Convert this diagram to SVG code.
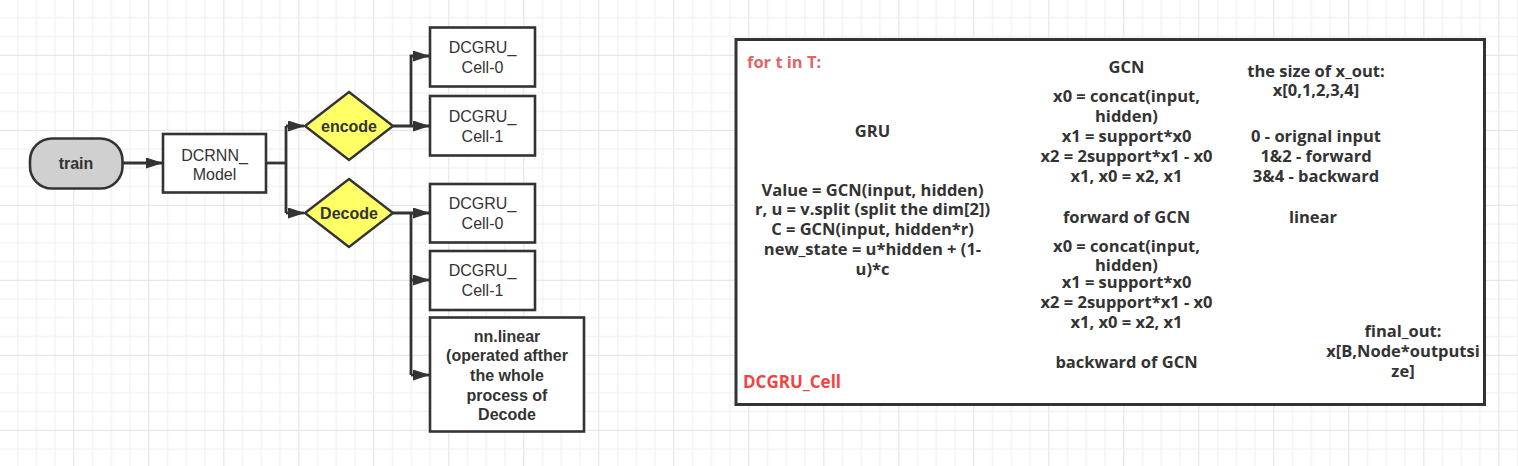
<svg xmlns="http://www.w3.org/2000/svg" width="1518" height="466" viewBox="0 0 1518 466">
<style>
.box{fill:#fff;stroke:#333;stroke-width:2.6}
.conn{fill:none;stroke:#333;stroke-width:2.8}
.lt{font-family:"Liberation Sans",Arial,sans-serif;font-size:16px;fill:#333;text-anchor:middle}
.b{font-weight:bold}
.rt{font-family:"Open Sans","Noto Sans",sans-serif;font-size:16.5px;font-weight:bold;fill:#333;text-anchor:middle}
</style>
<defs>
<pattern id="grid" patternUnits="userSpaceOnUse" x="-1.7" y="54.8" width="75" height="75">
<rect x="0" y="0" width="1" height="75" fill="#e2e2e2"/>
<rect x="18.75" y="0" width="1" height="75" fill="#eeeeee"/>
<rect x="37.5" y="0" width="1" height="75" fill="#eeeeee"/>
<rect x="56.25" y="0" width="1" height="75" fill="#eeeeee"/>
<rect x="0" y="0" width="75" height="1" fill="#e2e2e2"/>
<rect x="0" y="18.75" width="75" height="1" fill="#eeeeee"/>
<rect x="0" y="37.5" width="75" height="1" fill="#eeeeee"/>
<rect x="0" y="56.25" width="75" height="1" fill="#eeeeee"/>
</pattern>
<marker id="arr" viewBox="0 0 17 11" refX="16" refY="5.5" markerWidth="17" markerHeight="11" markerUnits="userSpaceOnUse" orient="auto">
<path d="M0,0 L17,5.5 L0,11 z" fill="#333"/>
</marker>
</defs>
<rect width="1518" height="466" fill="#fff"/>
<rect width="1518" height="466" fill="url(#grid)"/>

<g id="connectors">
<path class="conn" d="M122,163 H162" marker-end="url(#arr)"/>
<path class="conn" d="M266,163 H286"/>
<path class="conn" d="M286,126 V213"/>
<path class="conn" d="M286,126 H304" marker-end="url(#arr)"/>
<path class="conn" d="M286,213 H304" marker-end="url(#arr)"/>
<path class="conn" d="M393,126 H429" marker-end="url(#arr)"/>
<path class="conn" d="M411,126 V56 H429" marker-end="url(#arr)"/>
<path class="conn" d="M393,213 H429" marker-end="url(#arr)"/>
<path class="conn" d="M411,213 V375"/>
<path class="conn" d="M411,280 H429" marker-end="url(#arr)"/>
<path class="conn" d="M411,375 H429" marker-end="url(#arr)"/>
</g>

<g id="train">
<rect x="30" y="138.5" width="92.5" height="50" rx="22" ry="22" fill="#d0d0d0" stroke="#333" stroke-width="2.6"/>
<text class="lt b" x="76" y="169">train</text>
</g>
<g id="dcrnn-model">
<rect class="box" x="163" y="134" width="103" height="58.5"/>
<text class="lt" x="214.5" y="160.5">DCRNN_</text>
<text class="lt" x="214.5" y="180">Model</text>
</g>
<g id="encode">
<path d="M349,92 L393,126 L349,160 L305,126 z" fill="#ffff66" stroke="#333" stroke-width="2.4"/>
<text class="lt b" x="349" y="132">encode</text>
</g>
<g id="decode">
<path d="M349,179 L393,213 L349,247 L305,213 z" fill="#ffff66" stroke="#333" stroke-width="2.4"/>
<text class="lt b" x="349" y="219">Decode</text>
</g>
<g id="enc-cell-0">
<rect class="box" x="430" y="27.5" width="105" height="59"/>
<text class="lt" x="482.5" y="53">DCGRU_</text>
<text class="lt" x="482.5" y="73">Cell-0</text>
</g>
<g id="enc-cell-1">
<rect class="box" x="430" y="96" width="105" height="59.5"/>
<text class="lt" x="482.5" y="121.5">DCGRU_</text>
<text class="lt" x="482.5" y="141.5">Cell-1</text>
</g>
<g id="dec-cell-0">
<rect class="box" x="430" y="184" width="105" height="58.5"/>
<text class="lt" x="482.5" y="209">DCGRU_</text>
<text class="lt" x="482.5" y="229">Cell-0</text>
</g>
<g id="dec-cell-1">
<rect class="box" x="430" y="251" width="105" height="59"/>
<text class="lt" x="482.5" y="276">DCGRU_</text>
<text class="lt" x="482.5" y="296">Cell-1</text>
</g>
<g id="nn-linear">
<rect class="box" x="430" y="317.5" width="154" height="114"/>
<text class="lt b" x="507" y="341.5">nn.linear</text>
<text class="lt b" x="507" y="361.2">(operated afther</text>
<text class="lt b" x="507" y="380.9">the whole</text>
<text class="lt b" x="507" y="400.6">process of</text>
<text class="lt b" x="507" y="420.3">Decode</text>
</g>

<g id="dcgru-cell">
<rect x="736" y="39.5" width="748.5" height="365" fill="#fff" stroke="#333" stroke-width="3"/>
<text class="rt" x="747" y="67.5" style="text-anchor:start;fill:#e06666">for t in T:</text>
<text class="rt" x="743" y="387.5" style="text-anchor:start;fill:#f04444;font-size:17px">DCGRU_Cell</text>
<text class="rt" x="872.5" y="136.5">GRU</text>
<text class="rt" x="872.5" y="195.5">Value = GCN(input, hidden)</text>
<text class="rt" x="872.5" y="215.3">r, u = v.split (split the dim[2])</text>
<text class="rt" x="872.5" y="235.1">C = GCN(input, hidden*r)</text>
<text class="rt" x="872.5" y="254.9">new_state = u*hidden + (1-</text>
<text class="rt" x="872.5" y="274.7">u)*c</text>
<text class="rt" x="1126.5" y="72.5">GCN</text>
<text class="rt" x="1126.5" y="101.7">x0 = concat(input,</text>
<text class="rt" x="1126.5" y="121.7">hidden)</text>
<text class="rt" x="1126.5" y="141.7">x1 = support*x0</text>
<text class="rt" x="1126.5" y="161.7">x2 = 2support*x1 - x0</text>
<text class="rt" x="1126.5" y="181.7">x1, x0 = x2, x1</text>
<text class="rt" x="1126.5" y="222.7">forward of GCN</text>
<text class="rt" x="1126.5" y="251.7">x0 = concat(input,</text>
<text class="rt" x="1126.5" y="270.5">hidden)</text>
<text class="rt" x="1126.5" y="288.3">x1 = support*x0</text>
<text class="rt" x="1126.5" y="308.3">x2 = 2support*x1 - x0</text>
<text class="rt" x="1126.5" y="328.3">x1, x0 = x2, x1</text>
<text class="rt" x="1126.5" y="368.3">backward of GCN</text>
<text class="rt" x="1316" y="76.7">the size of x_out:</text>
<text class="rt" x="1316" y="95.7">x[0,1,2,3,4]</text>
<text class="rt" x="1316" y="141.7">0 - orignal input</text>
<text class="rt" x="1316" y="161.7">1&amp;2 - forward</text>
<text class="rt" x="1316" y="181.7">3&amp;4 - backward</text>
<text class="rt" x="1313" y="223.3">linear</text>
<text class="rt" x="1403" y="336.7">final_out:</text>
<text class="rt" x="1403" y="357.3">x[B,Node*outputsi</text>
<text class="rt" x="1403" y="377.3">ze]</text>
</g>
</svg>
